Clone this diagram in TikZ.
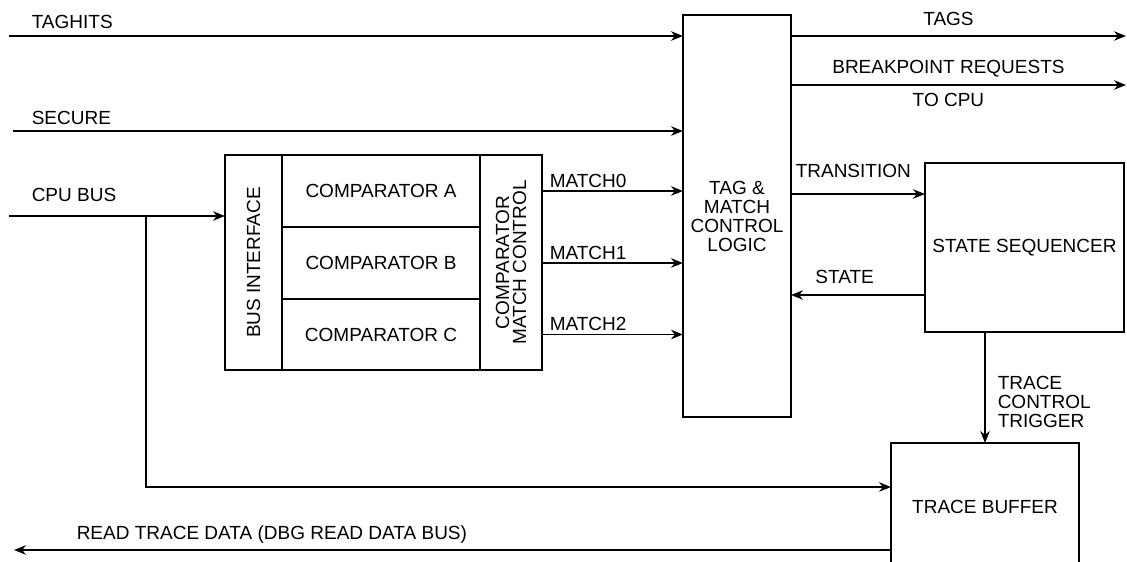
\documentclass[tikz,border=0pt]{standalone}
\usepackage{fontspec}
\setmainfont{Liberation Sans}
\usetikzlibrary{arrows.meta, positioning, calc}

\begin{document}
\begin{tikzpicture}[
  x=1pt, y=-1pt,
  blk/.style={draw, line width=1.5pt, inner sep=0pt, outer sep=0pt, align=center,
    font=\fontsize{19}{19}\selectfont},
  lbl/.style={inner sep=0pt, font=\fontsize{19}{19}\selectfont},
  sig/.style={->, line width=1.5pt},
  >={Stealth[length=12pt, width=9.5pt]}
]
  \useasboundingbox (0,0) rectangle (1127,562);
  \clip (0,0) rectangle (1127,562);

  \node[blk, minimum width=108pt, minimum height=402pt]
    (tag) at (737,216) {TAG \&\\MATCH\\CONTROL\\LOGIC};

  \node[blk, minimum width=57pt, minimum height=215pt] (busif) at (253.5,262.5) {};
  \node[lbl, rotate=90] (busiftxt) at (busif) {BUS INTERFACE};

  \node[blk, minimum width=198pt, minimum height=72pt] (cmpA) at (381,191)   {COMPARATOR A};
  \node[blk, minimum width=198pt, minimum height=72pt] (cmpB) at (381,263)   {COMPARATOR B};
  \node[blk, minimum width=198pt, minimum height=71pt] (cmpC) at (381,334.5) {COMPARATOR C};

  \node[blk, minimum width=62pt, minimum height=215pt] (mctl) at (511,262.5) {};
  \node[lbl, rotate=90, align=center, font=\fontsize{19}{17}\selectfont]
    (mctltxt) at (mctl) {COMPARATOR\\MATCH CONTROL};

  \node[blk, minimum width=199pt, minimum height=169pt]
    (seq) at (1024.5,247.5) {STATE SEQUENCER};
  \node[blk, minimum width=188pt, minimum height=128pt]
    (buf) at (985,507) {TRACE BUFFER};

  % free ends
  \coordinate (taghits) at (9,36);
  \coordinate (secure)  at (13,131);
  \coordinate (cpubus)  at (9,216);
  \coordinate (tap)     at (146,216);
  \coordinate (rdata)   at (14,550);
  \coordinate (tags)    at (1126,36);
  \coordinate (bkpt)    at (1126,85);

  % inputs
  \draw[sig] (taghits) -- (taghits -| tag.west)
    node[lbl, pos=0, anchor=base west, xshift=22pt, yshift=8pt] {TAGHITS};
  \draw[sig] (secure) -- (secure -| tag.west)
    node[lbl, pos=0, anchor=base west, xshift=18pt, yshift=7pt] {SECURE};
  \draw[sig] (cpubus) -- (cpubus -| busif.west)
    node[lbl, pos=0, anchor=base west, xshift=22pt, yshift=15pt] {CPU BUS};
  \draw[sig] (tap) |- (buf.west |- 0,487);
  \draw[sig] (buf.west |- 0,550) -- (rdata)
    node[lbl, pos=1, anchor=base west, xshift=62pt, yshift=11pt] {READ TRACE DATA (DBG READ DATA BUS)};

  % match lines
  \draw[sig] (cmpA -| mctl.east) -- (cmpA -| tag.west)
    node[lbl, pos=0, anchor=base west, xshift=7pt, yshift=4pt] {MATCH0};
  \draw[sig] (cmpB -| mctl.east) -- (cmpB -| tag.west)
    node[lbl, pos=0, anchor=base west, xshift=7pt, yshift=4pt] {MATCH1};
  \draw[sig] (cmpC -| mctl.east) -- (cmpC -| tag.west)
    node[lbl, pos=0, anchor=base west, xshift=7pt, yshift=4pt] {MATCH2};

  % outputs
  \draw[sig] (tag.east |- tags) -- (tags)
    node[lbl, pos=.47, anchor=base, yshift=11pt] {TAGS};
  \draw[sig] (tag.east |- bkpt) -- (bkpt)
    node[lbl, pos=.47, anchor=base, yshift=12pt] {BREAKPOINT REQUESTS}
    node[lbl, pos=.47, anchor=base, yshift=-21pt] {TO CPU};
  \draw[sig] (tag.east |- 0,194) -- (seq.west |- 0,194)
    node[lbl, pos=0, anchor=base west, xshift=4pt, yshift=17pt] {TRANSITION};
  \draw[sig] (seq.west |- 0,295) -- (tag.east |- 0,295)
    node[lbl, pos=.6, anchor=base, yshift=12pt] {STATE};
  \draw[sig] (buf.north |- seq.south) -- (buf.north)
    node[lbl, pos=.63, anchor=west, xshift=12pt, align=left] {TRACE\\CONTROL\\TRIGGER};
\end{tikzpicture}
\end{document}
